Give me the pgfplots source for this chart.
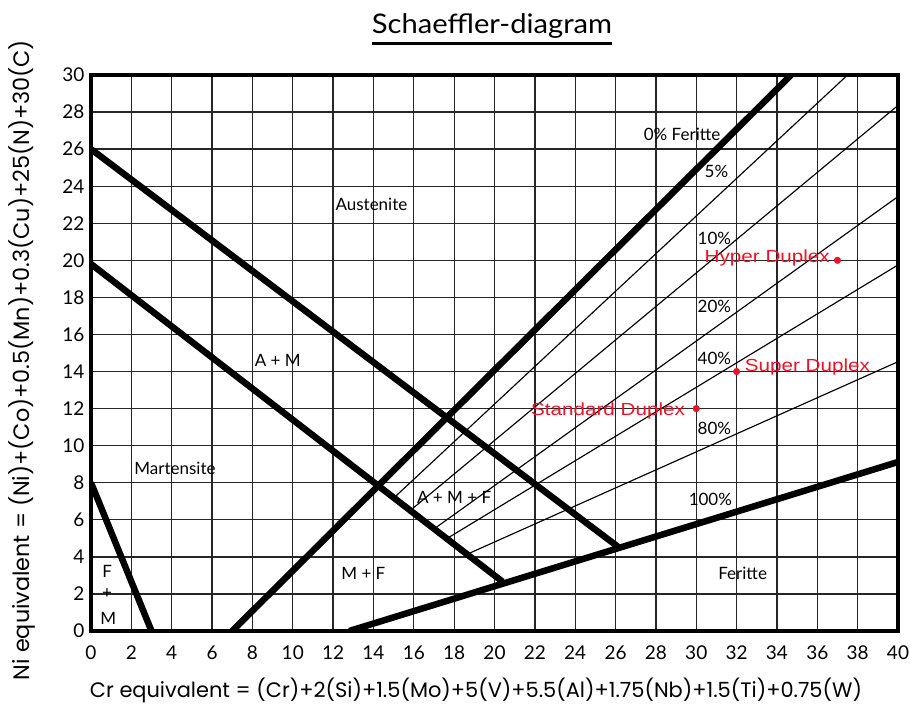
\documentclass[border=0pt]{standalone}
\usepackage{graphicx}
\usepackage{pgfplots}
\pgfplotsset{compat=1.18}
\usepackage{fontspec}
\setmainfont{Lato}
\newfontfamily\labfont{Poppins}
\newfontfamily\redfont{Liberation Sans}
\definecolor{dred}{RGB}{234,20,40}
\begin{document}
\begin{tikzpicture}
\path[use as bounding box] (-91pt,-78pt) rectangle (819pt,631pt);
\begin{axis}[
  name=ax,
  at={(0pt,0pt)}, anchor=south west,
  width=807pt, height=556pt, scale only axis,
  xmin=0, xmax=40, ymin=0, ymax=30,
  xtick={0,2,...,40}, ytick={0,2,...,30},
  grid=major,
  major grid style={black!85, line width=1.3pt},
  tick style={draw=none},
  axis line style={line width=3.6pt},
  /pgf/number format/assume math mode=true,
  tick label style={font=\fontsize{19}{22}\selectfont},
  xticklabel style={yshift=-11pt},
  yticklabel style={xshift=-3pt},
  clip=true,
]
% ferrite iso-lines (thin)
\addplot[black, line width=1.15pt] coordinates {(14.99,7.16) (37.5,30)};
\addplot[black, line width=1.15pt] coordinates {(15.8,6.48) (40,28.36)};
\addplot[black, line width=1.15pt] coordinates {(16.98,5.49) (40,23.44)};
\addplot[black, line width=1.15pt] coordinates {(17.6,4.96) (40,19.75)};
\addplot[black, line width=1.15pt] coordinates {(18.6,4.12) (40,14.53)};
% phase boundaries (thick)
\addplot[black, line width=6.5pt] coordinates {(0,8) (3,0)};
\addplot[black, line width=6.5pt] coordinates {(7,0) (34.7,30)};
\addplot[black, line width=6.5pt] coordinates {(0,19.8) (20.4,2.66)};
\addplot[black, line width=6.5pt] coordinates {(0,26) (26.2,4.48)};
\addplot[black, line width=6.5pt] coordinates {(12.8,0) (40,9.12)};
% grades
\addplot[only marks, mark=*, mark size=3.3pt, color=dred] coordinates {(37,20) (32,14) (30,12)};

\begin{scope}[every node/.style={font=\fontsize{17}{19}\selectfont, inner sep=0pt}]
\node at (axis cs:13.9,23.0) {Austenite};
\node at (axis cs:9.26,14.6) {A + M};
\node at (axis cs:4.16,8.8) {Martensite};
\node at (axis cs:0.8,3.2) {F};
\node at (axis cs:0.8,2.0) {+};
\node at (axis cs:0.85,0.7) {M};
\node at (axis cs:13.5,3.1) {M + F};
\node at (axis cs:18.0,7.2) {A + M + F};
\node at (axis cs:29.3,26.8) {0\% Feritte};
\node at (axis cs:31.0,24.8) {5\%};
\node at (axis cs:30.9,21.2) {10\%};
\node at (axis cs:30.9,17.5) {20\%};
\node at (axis cs:30.9,14.7) {40\%};
\node at (axis cs:30.9,10.95) {80\%};
\node at (axis cs:30.7,7.1) {100\%};
\node at (axis cs:32.3,3.1) {Feritte};
\end{scope}
\begin{scope}[every node/.style={font=\redfont\fontsize{17.5}{19}\selectfont, text=dred, inner sep=0pt}]
\node[anchor=east] at (axis cs:36.63,20.13) {\scalebox{1.18}[1]{Hyper Duplex}};
\node[anchor=west] at (axis cs:32.4,14.25) {\scalebox{1.18}[1]{Super Duplex}};
\node[anchor=east] at (axis cs:29.45,11.87) {\scalebox{1.18}[1]{Standard Duplex}};
\end{scope}
\end{axis}
\node[inner sep=0pt] at (385pt,-59pt) {\resizebox{772pt}{!}{\labfont\fontsize{20}{24}\selectfont Cr equivalent = (Cr)+2(Si)+1.5(Mo)+5(V)+5.5(Al)+1.75(Nb)+1.5(Ti)+0.75(W)}};
\node[inner sep=0pt, rotate=90] at (-69pt,271pt) {\resizebox{640pt}{!}{\labfont\fontsize{20}{24}\selectfont Ni equivalent = (Ni)+(Co)+0.5(Mn)+0.3(Cu)+25(N)+30(C)}};
\node[font=\fontsize{27}{30}\selectfont, inner sep=0pt, anchor=base] (T) at (401pt,597pt) {\scalebox{1.08}[1]{Schaeffler-diagram}};
\draw[line width=3.6pt] ([yshift=-9.5pt]T.base west) -- ([yshift=-9.5pt]T.base east);
\end{tikzpicture}
\end{document}
